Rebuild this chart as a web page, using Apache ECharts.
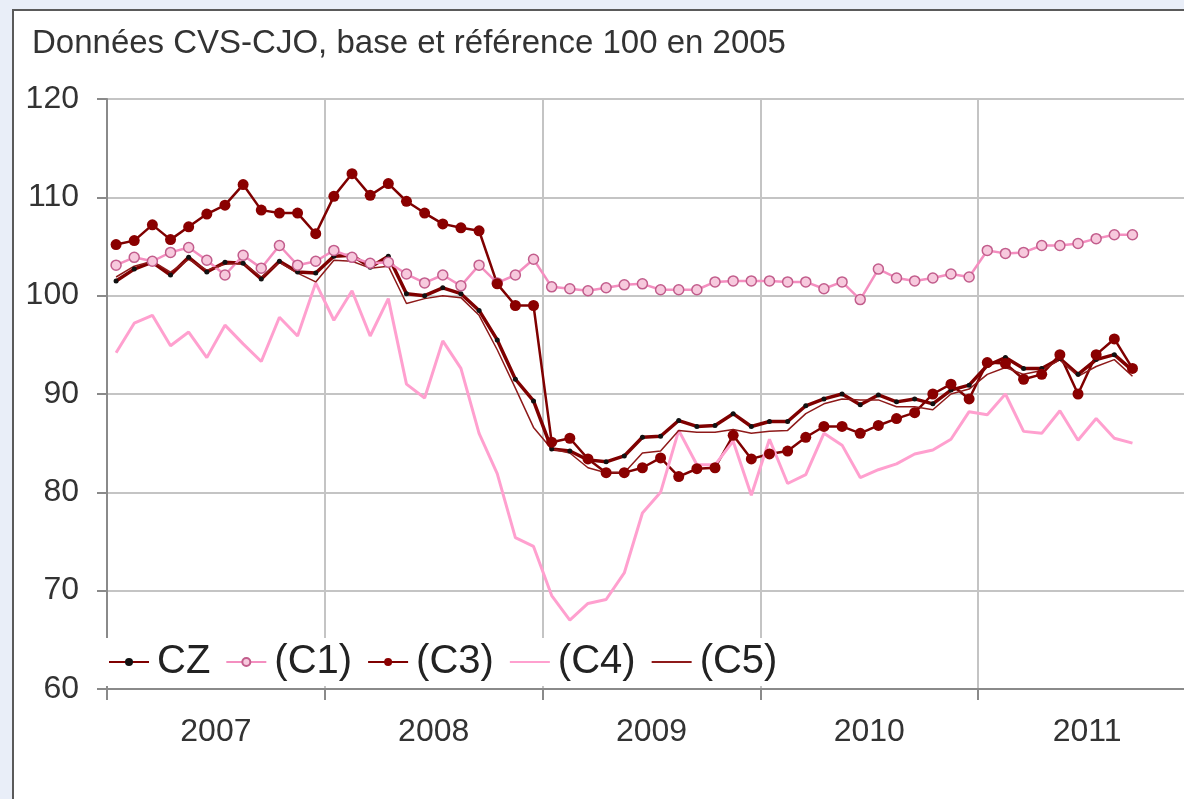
<!DOCTYPE html>
<html>
<head>
<meta charset="utf-8">
<script src="https://cdn.jsdelivr.net/npm/echarts@6/dist/echarts.min.js"></script>
<style>
html,body{margin:0;padding:0;width:1184px;height:799px;overflow:hidden;background:#e9eef8;}
#chart{position:absolute;left:0;top:0;width:1320px;height:799px;}
</style>
</head>
<body>
<div id="chart"></div>
<script>
// Year tick labels and monthly categories
const years = ['2007', '2008', '2009', '2010', '2011'];
const monthNames = ['01','02','03','04','05','06','07','08','09','10','11','12'];
const seriesNames = ['CZ', '(C1)', '(C3)', '(C4)', '(C5)'];

// Monthly values, Jan 2007 - Sep 2011
const cz = [
  101.5, 102.7, 103.4, 102.1, 103.9, 102.4, 103.4, 103.3, 101.7, 103.5, 102.4, 102.3,
  104.0, 104.1, 102.9, 104.0, 100.2, 100.0, 100.8, 100.2, 98.5, 95.5, 91.5, 89.3,
  84.4, 84.2, 83.3, 83.1, 83.7, 85.6, 85.7, 87.3, 86.7, 86.8, 88.0, 86.7,
  87.2, 87.2, 88.8, 89.5, 90.0, 88.9, 89.9, 89.2, 89.5, 89.0, 90.4, 90.9,
  92.9, 93.7, 92.6, 92.6, 93.6, 92.0, 93.5, 94.0, 92.4
];
const c1 = [
  103.1, 103.9, 103.5, 104.4, 104.9, 103.6, 102.1, 104.1, 102.8, 105.1, 103.1, 103.5,
  104.6, 103.9, 103.3, 103.4, 102.2, 101.3, 102.1, 101.0, 103.1, 101.3, 102.1, 103.7,
  100.9, 100.7, 100.5, 100.8, 101.1, 101.2, 100.6, 100.6, 100.6, 101.4, 101.5, 101.5,
  101.5, 101.4, 101.4, 100.7, 101.4, 99.6, 102.7, 101.8, 101.5, 101.8, 102.2, 101.9,
  104.6, 104.3, 104.4, 105.1, 105.1, 105.3, 105.8, 106.2, 106.2
];
const c3 = [
  105.2, 105.6, 107.2, 105.7, 107.0, 108.3, 109.2, 111.3, 108.7, 108.4, 108.4, 106.3,
  110.1, 112.4, 110.2, 111.4, 109.6, 108.4, 107.3, 106.9, 106.6, 101.2, 99.0, 99.0,
  85.1, 85.5, 83.4, 82.0, 82.0, 82.5, 83.5, 81.6, 82.4, 82.5, 85.8, 83.4,
  83.9, 84.2, 85.6, 86.7, 86.7, 86.0, 86.8, 87.5, 88.1, 90.0, 91.0, 89.5,
  93.2, 93.1, 91.5, 92.0, 94.0, 90.0, 94.0, 95.6, 92.6
];
const c4 = [
  94.2, 97.2, 98.0, 94.9, 96.3, 93.7, 97.0, 95.1, 93.3, 97.8, 95.9, 101.3,
  97.5, 100.5, 95.9, 99.7, 91.0, 89.6, 95.4, 92.6, 86.0, 81.9, 75.4, 74.5,
  69.5, 67.0, 68.7, 69.1, 71.8, 77.9, 80.0, 86.3, 82.8, 82.8, 85.2, 79.7,
  85.4, 80.9, 81.8, 86.0, 84.8, 81.5, 82.3, 82.9, 83.9, 84.3, 85.4, 88.2,
  87.9, 90.0, 86.2, 86.0, 88.3, 85.3, 87.5, 85.5, 85.0
];
const c5 = [
  101.9, 103.0, 103.5, 102.4, 103.7, 102.6, 103.2, 103.3, 101.9, 103.4, 102.3, 101.4,
  103.6, 103.5, 102.8, 103.0, 99.2, 99.7, 100.0, 99.8, 98.0, 94.5, 90.6, 86.6,
  84.4, 84.0, 82.5, 82.0, 82.0, 84.0, 84.2, 86.3, 86.1, 86.1, 86.4, 86.0,
  86.2, 86.3, 88.0, 89.0, 89.5, 89.4, 89.4, 88.7, 88.7, 88.4, 90.0, 90.5,
  92.0, 92.7, 92.0, 92.4, 93.5, 91.8, 92.8, 93.5, 91.8
];

const months = [];
years.forEach(y => monthNames.forEach(m => months.push(y + '-' + m)));

const FONT = '"Liberation Sans", Arial, sans-serif';
const chart = echarts.init(document.getElementById('chart'), null, {renderer: 'canvas'});

chart.setOption({
  animation: false,
  backgroundColor: '#e9eef8',
  graphic: [{
    type: 'rect', z: -10, silent: true,
    shape: {x: 13, y: 10, width: 1400, height: 900},
    style: {fill: '#ffffff', stroke: '#5a5a5a', lineWidth: 2}
  }],
  title: {
    text: 'Données CVS-CJO, base et référence 100 en 2005',
    left: 27, top: 22,
    textStyle: {fontFamily: FONT, fontSize: 33, fontWeight: 'normal', color: '#333333'}
  },
  legend: {
    data: [
      {name: 'CZ'},
      {name: '(C1)'},
      {name: '(C3)'},
      {name: '(C4)', itemStyle: {opacity: 0}},
      {name: '(C5)', itemStyle: {opacity: 0}}
    ],
    left: 100, top: 638,
    backgroundColor: '#ffffff',
    padding: [4, 8, 4, 8],
    itemWidth: 40, itemHeight: 10, itemGap: 15,
    textStyle: {fontFamily: FONT, fontSize: 40, color: '#222222', padding: [0, 0, 0, 3]}
  },
  grid: {left: 107, top: 99, width: 1089, height: 590, containLabel: false},
  xAxis: [{
    type: 'category', data: years, boundaryGap: true,
    axisLine: {lineStyle: {color: '#8a8a8a', width: 2}},
    axisTick: {show: true, length: 11, lineStyle: {color: '#8a8a8a', width: 2}},
    splitLine: {show: true, lineStyle: {color: '#c4c4c4', width: 2}},
    axisLabel: {fontFamily: FONT, fontSize: 32, color: '#333333', margin: 27}
  }, {
    type: 'category', data: months, boundaryGap: true, show: false,
    position: 'bottom'
  }],
  yAxis: {
    type: 'value', min: 60, max: 120, interval: 10,
    axisLine: {show: true, lineStyle: {color: '#8a8a8a', width: 2}},
    axisTick: {show: true, length: 10, lineStyle: {color: '#8a8a8a', width: 2}},
    splitLine: {show: true, lineStyle: {color: '#c4c4c4', width: 2}},
    axisLabel: {fontFamily: FONT, fontSize: 32, color: '#333333', margin: 28}
  },
  series: [{
    name: 'CZ', type: 'line', xAxisIndex: 1, data: cz,
    showAllSymbol: true, symbol: 'circle', symbolSize: 5,
    lineStyle: {color: '#7f0000', width: 3.5},
    itemStyle: {color: '#111111'}
  }, {
    name: '(C1)', type: 'line', xAxisIndex: 1, data: c1,
    showAllSymbol: true, symbol: 'circle', symbolSize: 10,
    lineStyle: {color: '#f48fc0', width: 2.5},
    itemStyle: {color: '#f7c9dd', borderColor: '#c25d8c', borderWidth: 1.5}
  }, {
    name: '(C3)', type: 'line', xAxisIndex: 1, data: c3,
    showAllSymbol: true, symbol: 'circle', symbolSize: 11,
    lineStyle: {color: '#7f0000', width: 2.5},
    itemStyle: {color: '#8a0000'}
  }, {
    name: '(C4)', type: 'line', xAxisIndex: 1, data: c4,
    showSymbol: false, symbol: 'circle', symbolSize: 0,
    lineStyle: {color: '#ffa0cf', width: 3},
    itemStyle: {color: '#ffa0cf'}
  }, {
    name: '(C5)', type: 'line', xAxisIndex: 1, data: c5,
    showSymbol: false, symbol: 'circle', symbolSize: 0,
    lineStyle: {color: '#8e1a1a', width: 1.5},
    itemStyle: {color: '#8e1a1a'}
  }]
});
</script>
</body>
</html>
